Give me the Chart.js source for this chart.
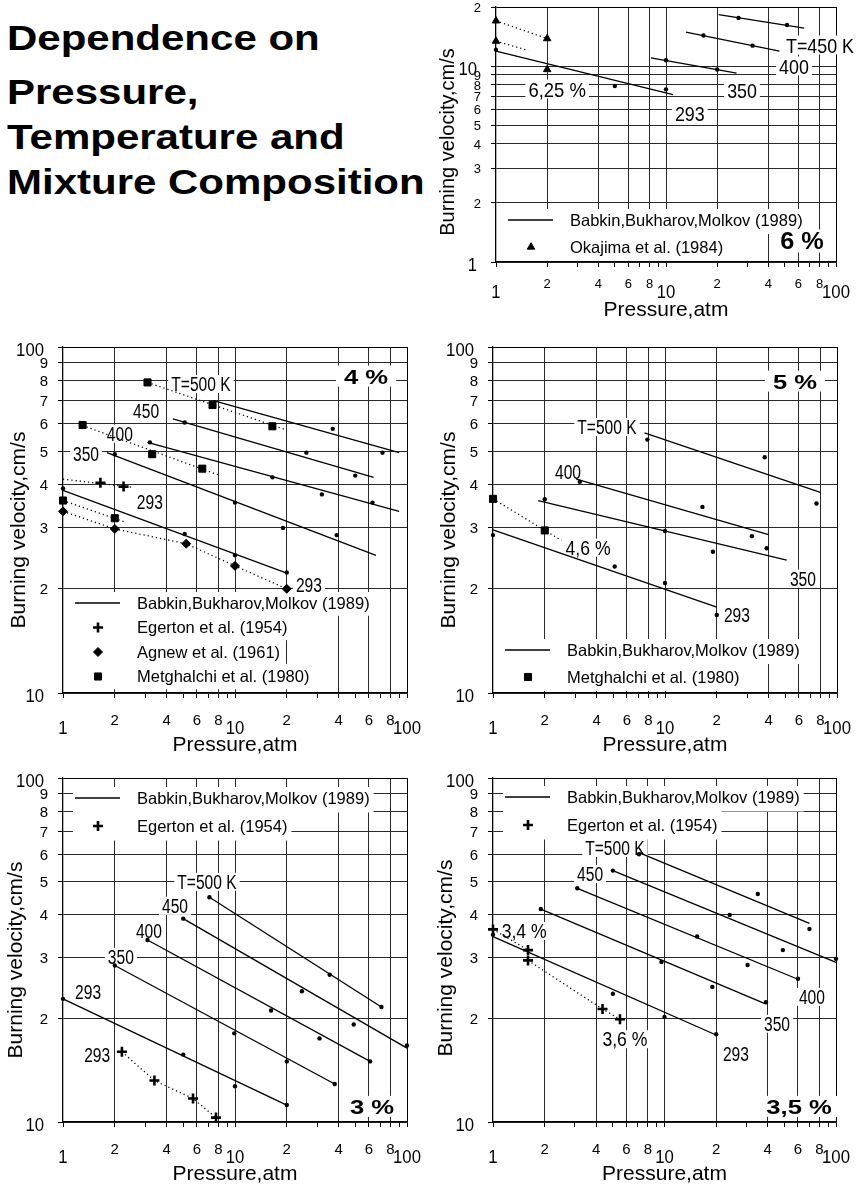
<!DOCTYPE html>
<html>
<head>
<meta charset="utf-8">
<script src="https://cdn.jsdelivr.net/npm/chart.js@4.4.1/dist/chart.umd.min.js"></script>
<style>
  html, body { margin: 0; padding: 0; background: #fff; }
  body { position: relative; width: 865px; height: 1190px; overflow: hidden; }
  canvas { position: absolute; }
  .head { position: absolute; left: 7px; font: bold 35px 'Liberation Sans', Arial, sans-serif; line-height: 35px;
          white-space: nowrap; transform: scaleX(1.2); transform-origin: 0 0; color: #000; }
</style>
</head>
<body>
<div class="head" style="top:20px">Dependence on</div>
<div class="head" style="top:74px">Pressure,</div>
<div class="head" style="top:119px">Temperature and</div>
<div class="head" style="top:164px">Mixture Composition</div>
<script>
const FONT = "'Liberation Sans', Arial, Helvetica, sans-serif";

// ---- axes, shared by all panels ----
const xTickVals = [1, 2, 3, 4, 5, 6, 7, 8, 9, 10, 20, 30, 40, 50, 60, 70, 80, 90, 100];
const xGridVals = [2, 4, 6, 8, 10, 20, 40, 60, 80];
const xLabelVals = [1, 2, 4, 6, 8, 10, 20, 40, 60, 80, 100];
const xLabelText = ['1', '2', '4', '6', '8', '10', '2', '4', '6', '8', '100'];
const xMajorVals = [1, 10, 100];

const yTickVals = [10, 20, 30, 40, 50, 60, 70, 80, 90, 100];
const yTickText = ['10', '2', '3', '4', '5', '6', '7', '8', '9', '100'];
const yMajorVals = [10, 100];
const yTickVals6 = [1, 2, 3, 4, 5, 6, 7, 8, 9, 10, 20];
const yTickText6 = ['1', '2', '3', '4', '5', '6', '7', '8', '9', '10', '2'];
const yMajorVals6 = [1, 10];

// ---- 6 % ----  [pressure atm, burning velocity cm/s]
const c6_T293 = [[1, 11.9], [11, 7.15]];
const c6_T350 = [[8.15, 11.0], [26, 9.2]];
const c6_T400 = [[13.1, 14.9], [46.5, 11.9]];
const c6_T450 = [[20.4, 18.3], [65, 15.6]];
const c6_dots = [[1, 12.1], [5, 7.9], [10, 7.6], [10, 10.7], [20, 9.6], [16.6, 14.3], [32.3, 12.7], [26.7, 17.6], [51.5, 16.2]];
const c6_okajima = [[1, 17.0], [1, 13.4], [2, 13.8], [2, 9.6]];
const c6_okaFitA = [[1, 17.0], [2, 13.8]];
const c6_okaFitB = [[1, 13.4], [1.55, 12.0]];

// ---- 4 % ----
const c4_T293 = [[1, 38.5], [20, 22.2]];
const c4_T350 = [[1.8, 49.5], [66, 25]];
const c4_T400 = [[3.1, 53], [90, 33.5]];
const c4_T450 = [[4.35, 62], [64, 42]];
const c4_T500 = [[7.5, 70], [90, 49.5]];
const c4_dots = [[1, 39], [2, 49], [3.2, 53], [5.1, 60.5], [5.1, 28.8], [10, 25], [10, 35.5], [16.5, 42], [19, 30],
                 [20, 22.3], [26, 49.5], [32, 37.5], [37, 58], [39, 28.6], [50, 42.5], [63, 35.5], [72, 49.5]];
const c4_egerton = [[1.65, 40.5], [2.25, 39.5]];
const c4_egFit = [[1, 41.5], [2.55, 39.3]];
const c4_agnew = [[1, 33.5], [2, 29.8], [5.2, 27], [10, 23.3], [20, 20]];
const c4_metghalchi = [[3.1, 79], [7.4, 68], [16.5, 59], [1.3, 59.5], [3.3, 49], [6.45, 44.5], [1, 36], [2, 32]];
const c4_metFitA = [[3.1, 79], [20, 57.5]];
const c4_metFitB = [[1.3, 59.3], [8, 42.7]];
const c4_metFitC = [[1, 36], [2.25, 31.3]];

// ---- 5 % ----
const c5_T293 = [[1, 29.6], [20, 17.7]];
const c5_T350 = [[1.83, 36], [51, 24.2]];
const c5_T400 = [[3.05, 41.5], [40, 28.7]];
const c5_T500 = [[7.6, 56.5], [80, 38]];
const c5_dots = [[1, 28.6], [2, 36.3], [3.2, 40.8], [5.1, 23.2], [7.9, 54], [10, 29.4], [10, 20.8], [16.5, 34.5],
                 [19, 25.6], [20, 16.8], [32, 28.4], [38, 48], [39, 26.2], [76, 35.3]];
const c5_metghalchi = [[1, 36.4], [2, 29.5]];
const c5_metFit = [[1, 36.4], [2.5, 27.6]];

// ---- 3 % ----
const c3_T293 = [[1, 22.8], [20, 11.2]];
const c3_T350 = [[2, 28.5], [38, 12.9]];
const c3_T400 = [[3.1, 33.8], [61, 15]];
const c3_T450 = [[5, 39], [100, 16.4]];
const c3_T500 = [[7.1, 45], [71, 21.6]];
const c3_dots = [[7.1, 45], [35.5, 26.8], [71, 21.6], [5, 39], [24.5, 24], [49, 19.2], [100, 16.7], [3.1, 33.8],
                 [16.2, 21.1], [31, 17.5], [61, 15], [2, 28.5], [9.9, 18.1], [20, 15], [38, 12.9], [1, 22.8],
                 [5, 15.7], [10, 12.7], [20, 11.2]];
const c3_egerton = [[2.2, 16], [3.4, 13.2], [5.7, 11.7], [7.75, 10.3]];

// ---- 3,5 % ----
const c35_T293 = [[1, 34.6], [20, 17.9]];
const c35_T350 = [[1.9, 41.6], [38.5, 22.1]];
const c35_T400 = [[3.1, 47.8], [60, 26]];
const c35_T450 = [[5, 53.8], [100, 29.1]];
const c35_T500 = [[7.1, 60.7], [70, 37.8]];
const c35_dots = [[7.1, 60], [35, 46], [70, 36.4], [5, 53.8], [24, 40], [49, 31.6], [100, 29.8], [3.1, 47.8],
                  [15.5, 34.6], [30.5, 28.6], [60, 26.1], [1.9, 41.6], [9.6, 29.2], [19, 24.7], [39, 22.3],
                  [1, 35], [5, 23.6], [10, 20.2], [20, 18]];
const c35_egerton = [[1, 36.3], [1.6, 31.6], [1.6, 29.5], [4.35, 21.3], [5.5, 19.9]];
const c35_egFitA = [[1, 36.3], [1.6, 31.6]];
const c35_egFitB = [[1.6, 29.5], [4.35, 21.3], [5.5, 19.9]];

// ---- dataset styles ----
const MARK = {
  egerton:    { pointStyle: 'cross',    pointRadius: 5,   pointBorderWidth: 2.6 },
  agnew:      { pointStyle: 'rectRot',  pointRadius: 4.5, pointBorderWidth: 1 },
  metghalchi: { pointStyle: 'rect',     pointRadius: 5,   pointBorderWidth: 1 },
  okajima:    { pointStyle: 'triangle', pointRadius: 4.3, pointBorderWidth: 1 }
};
const xy = a => a.map(([x, y]) => ({ x, y }));
const model = a => ({ data: xy(a), showLine: true, borderColor: '#000', borderWidth: 1.3, pointRadius: 0, clip: false });
const dotted = a => ({ data: xy(a), showLine: true, borderColor: '#000', borderWidth: 1.3, borderDash: [1.2, 3],
                       pointRadius: 0, clip: false });
const dots = a => ({ data: xy(a), pointStyle: 'circle', pointRadius: 2.2, pointBackgroundColor: '#000',
                     pointBorderWidth: 0, clip: false });
const marks = (a, k) => Object.assign({ data: xy(a), pointBackgroundColor: '#000', pointBorderColor: '#000',
                                        clip: false }, MARK[k]);

function text(ctx, s, x, y, size, o) {
  o = o || {};
  ctx.save();
  ctx.font = (o.bold ? 'bold ' : '') + size + 'px ' + FONT;
  ctx.fillStyle = '#000';
  ctx.textAlign = o.align || 'center';
  ctx.textBaseline = 'alphabetic';
  ctx.translate(x, y);
  if (o.rot) ctx.rotate(o.rot);
  ctx.scale(o.sx || 1, 1);
  ctx.fillText(s, 0, size * 0.36);
  ctx.restore();
}
function measure(ctx, s, size, bold) {
  ctx.save();
  ctx.font = (bold ? 'bold ' : '') + size + 'px ' + FONT;
  const w = ctx.measureText(s).width;
  ctx.restore();
  return w;
}
function legendMark(ctx, kind, x, y) {
  ctx.save();
  ctx.fillStyle = '#000';
  ctx.strokeStyle = '#000';
  ctx.beginPath();
  if (kind === 'line') {
    ctx.lineWidth = 1.3;
    ctx.moveTo(x - 23, y); ctx.lineTo(x + 22, y);
    ctx.stroke();
  } else {
    const m = MARK[kind], r = m.pointRadius;
    ctx.lineWidth = m.pointBorderWidth;
    if (kind === 'egerton') {
      ctx.moveTo(x, y - r); ctx.lineTo(x, y + r); ctx.moveTo(x - r, y); ctx.lineTo(x + r, y);
    } else if (kind === 'agnew') {
      ctx.moveTo(x - r, y); ctx.lineTo(x, y - r); ctx.lineTo(x + r, y); ctx.lineTo(x, y + r); ctx.closePath();
    } else if (kind === 'metghalchi') {
      const s = r * Math.SQRT1_2; ctx.rect(x - s, y - s, 2 * s, 2 * s);
    } else {
      ctx.moveTo(x, y - r); ctx.lineTo(x + 0.866 * r, y + 0.5 * r); ctx.lineTo(x - 0.866 * r, y + 0.5 * r); ctx.closePath();
    }
    if (kind !== 'egerton') ctx.fill();
    ctx.stroke();
  }
  ctx.restore();
}

function gridCol(tick, shown, max) {
  if (!tick) return 'rgba(0,0,0,0)';
  if (tick.value === max) return '#000';
  return shown.includes(tick.value) ? '#2a2a2a' : 'rgba(0,0,0,0)';
}

function deco(p) {
  return {
    id: 'deco',
    beforeDatasetsDraw(chart) {
      const ctx = chart.ctx, a = chart.chartArea, xs = chart.scales.x, ys = chart.scales.y;
      ctx.save();
      ctx.fillStyle = '#fff';
      p.legend.forEach((row, i) => {
        const cy = a.top + p.legTop + i * p.legDy;
        const w = measure(ctx, row[1], 16.5, false);
        const top = i === 0 ? cy - 11 : cy - p.legDy / 2 - 0.5;
        ctx.fillRect(a.left + 10, top, 64 + w + 4, cy + p.legDy / 2 + 0.5 - top);
      });
      p.labels.forEach(l => {
        const x = xs.getPixelForValue(l[1]), y = ys.getPixelForValue(l[2]);
        const sx = l[0].includes('%') ? 0.88 : p.lblSx;
        const w = measure(ctx, l[0], p.lblSize, false) * sx;
        ctx.fillRect(x - w / 2 - 3, y - p.lblSize * 0.45, w + 6, p.lblSize * 0.9);
      });
      const q = p.pct;
      const qx = xs.getPixelForValue(q[1]), qy = ys.getPixelForValue(q[2]);
      const qw = measure(ctx, q[0], p.pctSize, true) * p.pctSx;
      ctx.fillRect(qx - qw / 2 - 8, qy - p.pctSize * 0.5, qw + 16, p.pctSize);
      ctx.restore();

      p.legend.forEach((row, i) => {
        const cy = a.top + p.legTop + i * p.legDy;
        legendMark(ctx, row[0], a.left + 35, cy);
        text(ctx, row[1], a.left + 74, cy, 16.5, { align: 'left' });
      });
      p.labels.forEach(l => {
        const sx = l[0].includes('%') ? 0.88 : p.lblSx;
        text(ctx, l[0], xs.getPixelForValue(l[1]), ys.getPixelForValue(l[2]), p.lblSize, { sx });
      });
      text(ctx, q[0], qx, qy, p.pctSize, { bold: true, sx: p.pctSx });
    },
    afterDraw(chart) {
      const ctx = chart.ctx, a = chart.chartArea, xs = chart.scales.x, ys = chart.scales.y;
      xLabelVals.forEach((v, i) => {
        const big = xMajorVals.includes(v);
        text(ctx, xLabelText[i], xs.getPixelForValue(v), a.bottom + (big ? p.xBigOff : p.xSmallOff),
             big ? 19 : p.tickSize, { sx: big ? 0.88 : 1 });
      });
      p.yVals.forEach((v, i) => {
        const big = p.yMajor.includes(v);
        text(ctx, p.yText[i], a.left - (big ? 19 : 15), ys.getPixelForValue(v) + (big ? 2 : 0),
             big ? 19 : p.tickSize, { align: 'right', sx: big ? 0.88 : 1 });
      });
      text(ctx, 'Pressure,atm', (a.left + a.right) / 2, a.bottom + p.xTitleOff, 21);
      text(ctx, 'Burning velocity,cm/s', a.left + p.yTitleX, (a.top + a.bottom) / 2 + p.yTitleDy,
           p.yTitleSize, { rot: -Math.PI / 2 });
    }
  };
}

function panel(p) {
  const [L, T, W, H] = p.box;
  const cv = document.createElement('canvas');
  cv.width = W; cv.height = H;
  Object.assign(cv.style, { left: L + 'px', top: T + 'px', width: W + 'px', height: H + 'px' });
  document.body.appendChild(cv);
  const yMax = p.yVals[p.yVals.length - 1];
  return new Chart(cv.getContext('2d'), {
    type: 'scatter',
    data: { datasets: p.datasets },
    options: {
      responsive: false,
      animation: false,
      events: [],
      layout: { autoPadding: false, padding: { left: 0, top: p.padTop, right: p.padRight, bottom: 0 } },
      plugins: { legend: { display: false }, tooltip: { enabled: false } },
      scales: {
        x: {
          type: 'logarithmic', min: 1, max: 100,
          afterBuildTicks: s => { s.ticks = xTickVals.map(v => ({ value: v })); },
          afterFit: s => { s.height = p.xH; },
          ticks: { display: false },
          grid: { color: c => gridCol(c.tick, xGridVals, 100), tickColor: '#000', tickLength: 5, lineWidth: 1 },
          border: { color: '#000', width: 1.3 }
        },
        y: {
          type: 'logarithmic', min: p.yVals[0], max: yMax,
          afterBuildTicks: s => { s.ticks = p.yVals.map(v => ({ value: v })); },
          afterFit: s => { s.width = p.yW; },
          ticks: { display: false },
          grid: { color: c => gridCol(c.tick, p.yVals, yMax), tickColor: '#000', tickLength: 5, lineWidth: 1 },
          border: { color: '#000', width: 1.3 }
        }
      }
    },
    plugins: [deco(p)]
  });
}

const common = {
  yVals: yTickVals, yText: yTickText, yMajor: yMajorVals,
  xSmallOff: 27, xBigOff: 34, xTitleOff: 50, yTitleSize: 21, tickSize: 15,
  lblSize: 20, lblSx: 0.78, pctSize: 21, pctSx: 1.22, yTitleDy: 10
};

// 6 %
panel(Object.assign({}, common, {
  box: [430, 0, 435, 330], yW: 66, xH: 68, padTop: 7, padRight: 29,
  yVals: yTickVals6, yText: yTickText6, yMajor: yMajorVals6,
  xSmallOff: 21, xBigOff: 29, xTitleOff: 46, yTitleX: -49, yTitleDy: 7.5, yTitleSize: 20, tickSize: 13,
  lblSize: 21, lblSx: 0.85, pctSize: 23, pctSx: 1.1,
  datasets: [model(c6_T293), model(c6_T350), model(c6_T400), model(c6_T450), dots(c6_dots),
             dotted(c6_okaFitA), dotted(c6_okaFitB), marks(c6_okajima, 'okajima')],
  labels: [['T=450 K', 80.5, 12.8], ['400', 56.6, 10.0], ['350', 28, 7.54], ['293', 13.8, 5.76], ['6,25 %', 2.29, 7.63]],
  pct: ['6 %', 63.1, 1.28],
  legend: [['line', 'Babkin,Bukharov,Molkov (1989)'], ['okajima', 'Okajima et al. (1984)']],
  legTop: 213, legDy: 27
}));

// 4 %
panel(Object.assign({}, common, {
  box: [0, 335, 430, 425], yW: 63, xH: 67, padTop: 12, padRight: 23, yTitleX: -45.5,
  datasets: [model(c4_T293), model(c4_T350), model(c4_T400), model(c4_T450), model(c4_T500), dots(c4_dots),
             dotted(c4_egFit), dotted(c4_agnew), dotted(c4_metFitA), dotted(c4_metFitB), dotted(c4_metFitC),
             marks(c4_egerton, 'egerton'), marks(c4_agnew, 'agnew'), marks(c4_metghalchi, 'metghalchi')],
  labels: [['T=500 K', 6.34, 78.2], ['450', 3.04, 65.3], ['400', 2.14, 56.1], ['350', 1.36, 49.1],
           ['293', 3.2, 35.6], ['293', 26.9, 20.5]],
  pct: ['4 %', 57.8, 82.4],
  legend: [['line', 'Babkin,Bukharov,Molkov (1989)'], ['egerton', 'Egerton et al. (1954)'],
           ['agnew', 'Agnew et al. (1961)'], ['metghalchi', 'Metghalchi et al. (1980)']],
  legTop: 256, legDy: 24.5
}));

// 5 %
panel(Object.assign({}, common, {
  box: [430, 335, 435, 425], yW: 63, xH: 67, padTop: 12, padRight: 28, yTitleX: -46,
  datasets: [model(c5_T293), model(c5_T350), model(c5_T400), model(c5_T500), dots(c5_dots),
             dotted(c5_metFit), marks(c5_metghalchi, 'metghalchi')],
  labels: [['T=500 K', 4.6, 58.7], ['400', 2.73, 43.5], ['4,6 %', 3.57, 26.3], ['293', 26.2, 16.8], ['350', 63.4, 21.4]],
  pct: ['5 %', 57, 79.7],
  legend: [['line', 'Babkin,Bukharov,Molkov (1989)'], ['metghalchi', 'Metghalchi et al. (1980)']],
  legTop: 303, legDy: 27
}));

// 3 %
panel(Object.assign({}, common, {
  box: [0, 765, 430, 425], yW: 63, xH: 68, padTop: 13, padRight: 23, yTitleX: -49,
  datasets: [model(c3_T293), model(c3_T350), model(c3_T400), model(c3_T450), model(c3_T500), dots(c3_dots),
             dotted(c3_egerton), marks(c3_egerton, 'egerton')],
  labels: [['T=500 K', 6.87, 49.9], ['450', 4.48, 42.5], ['400', 3.16, 35.9], ['350', 2.17, 30.2],
           ['293', 1.4, 23.9], ['293', 1.58, 15.7]],
  pct: ['3 %', 62.6, 11.1],
  legend: [['line', 'Babkin,Bukharov,Molkov (1989)'], ['egerton', 'Egerton et al. (1954)']],
  legTop: 20, legDy: 28
}));

// 3,5 %
panel(Object.assign({}, common, {
  box: [430, 765, 435, 425], yW: 63, xH: 68, padTop: 13, padRight: 29, yTitleX: -49, yTitleDy: 8,
  datasets: [model(c35_T293), model(c35_T350), model(c35_T400), model(c35_T450), model(c35_T500), dots(c35_dots),
             dotted(c35_egFitA), dotted(c35_egFitB), marks(c35_egerton, 'egerton')],
  labels: [['T=500 K', 5.14, 62.6], ['450', 3.68, 52.6], ['3,4 %', 1.52, 35.9], ['3,6 %', 5.88, 17.4],
           ['293', 26.1, 15.8], ['350', 45.3, 19.3], ['400', 72.4, 23.1]],
  pct: ['3,5 %', 60.9, 11.1],
  legend: [['line', 'Babkin,Bukharov,Molkov (1989)'], ['egerton', 'Egerton et al. (1954)']],
  legTop: 19, legDy: 28
}));
</script>
</body>
</html>
